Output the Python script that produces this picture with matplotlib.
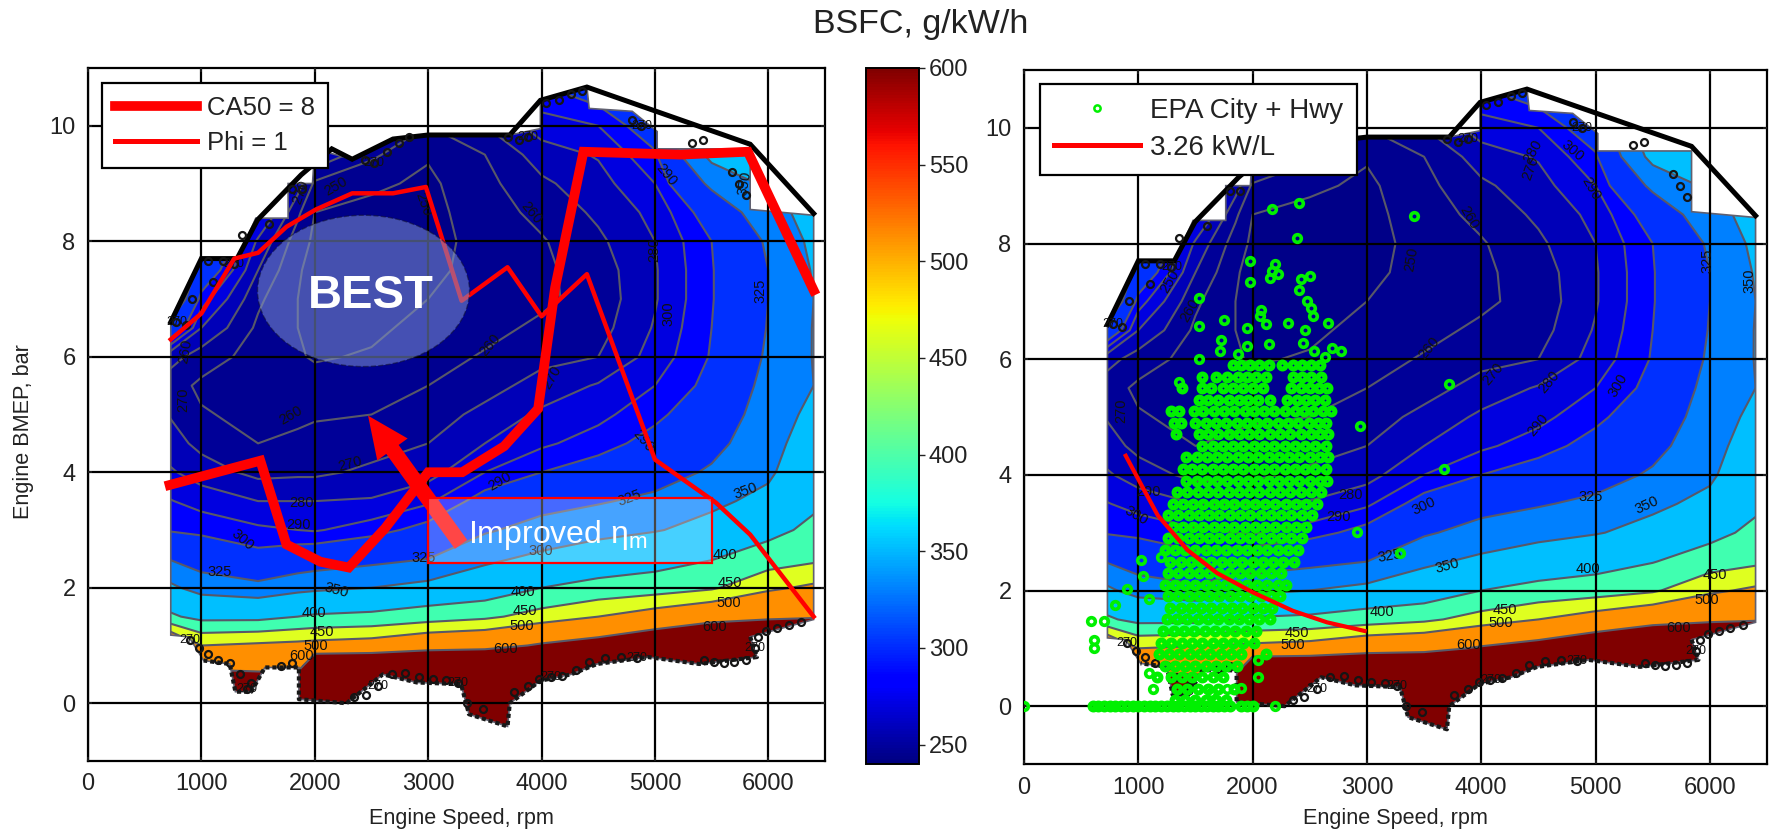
import numpy as np
import matplotlib
matplotlib.use('Agg')
import matplotlib.pyplot as plt
from matplotlib.lines import Line2D
from matplotlib.patches import Ellipse, FancyArrowPatch, Polygon, Rectangle
from matplotlib.cm import ScalarMappable
from matplotlib.colors import Normalize

plt.rcParams['font.family'] = ['Liberation Sans', 'DejaVu Sans']

# BSFC map, one column per engine speed
speeds = [700, 1000, 1500, 1850, 2000, 2500, 3000, 3500, 4000, 4500, 5000, 5500, 6000, 6400]
bmep_rows = [-0.5, 0, 0.5, 1, 1.5, 2, 2.5, 3, 3.5, 4, 4.5, 5, 5.5, 6, 6.5, 7, 7.5, 8, 8.5, 9, 9.5, 10, 10.7]
bsfc_700 = [900, 900, 800, 600, 410, 357, 325, 299, 291, 282, 275, 270, 265, 275, 320, 360, 370, 380, 380, 380, 380, 380, 380]
bsfc_1000 = [900, 900, 620, 500, 385, 339, 313, 297, 286, 275, 267, 261, 258, 265, 280, 295, 315, 330, 340, 350, 350, 350, 350]
bsfc_1500 = [900, 700, 610, 510, 385, 331, 305, 292, 280, 267, 260, 257, 255, 256, 258, 262, 270, 278, 295, 310, 320, 330, 330]
bsfc_1850 = [900, 700, 610, 516, 400, 340, 310, 290, 280, 268, 262, 258, 255, 251, 250, 250, 251, 255, 262, 275, 295, 305, 305]
bsfc_2000 = [900, 900, 800, 520, 405, 343, 312, 289, 280, 268, 263, 259, 254, 249, 247, 247, 247, 248, 250, 258, 280, 300, 300]
bsfc_2500 = [900, 900, 800, 530, 410, 350, 318, 295, 281, 272, 266, 260, 255, 251, 248, 246, 245, 245, 247, 252, 262, 275, 285]
bsfc_3000 = [900, 900, 800, 560, 425, 358, 325, 305, 288, 276, 270, 265, 260, 256, 253, 250, 248, 247, 247, 248, 251, 260, 270]
bsfc_3500 = [900, 900, 800, 570, 440, 368, 345, 322, 306, 290, 280, 273, 266, 261, 257, 254, 253, 253, 255, 257, 260, 270, 280]
bsfc_4000 = [900, 900, 800, 610, 470, 400, 356, 334, 316, 300, 288, 282, 274, 267, 262, 258, 258, 259, 263, 268, 275, 285, 300]
bsfc_4500 = [900, 900, 800, 640, 500, 415, 370, 340, 323, 307, 295, 287, 281, 270, 266, 264, 265, 268, 272, 276, 281, 290, 310]
bsfc_5000 = [900, 900, 800, 690, 530, 425, 380, 348, 330, 315, 305, 297, 290, 284, 281, 279, 279, 280, 283, 290, 298, 310, 330]
bsfc_5500 = [900, 900, 850, 760, 560, 443, 398, 360, 344, 328, 318, 310, 304, 301, 300, 299, 299, 300, 308, 330, 358, 370, 380]
bsfc_6000 = [900, 900, 850, 790, 580, 490, 425, 385, 358, 345, 340, 336, 332, 328, 326, 325, 325, 328, 340, 355, 370, 390, 400]
bsfc_6400 = [900, 900, 850, 800, 590, 510, 440, 412, 390, 375, 365, 357, 350, 351, 351, 350, 352, 356, 360, 365, 370, 380, 400]

levels = [240, 250, 260, 270, 280, 290, 300, 325, 350, 400, 450, 500, 600, 1000]
band_colors = ['#000088', '#000090', '#000098', '#0000b8', '#0000e0', '#0000ff', '#0030ff',
               '#0080ff', '#00bfff', '#40ffb0', '#dfff20', '#ff8f00', '#800000']

# measured area of the map
edge_speed = [730, 1000, 1320, 1480, 1765, 1765, 1980, 2000, 2330, 2690, 3000, 3720, 3990, 3990, 4400, 4420,
              4800, 5020, 5020, 5840, 5840, 6400, 6400, 5840, 5900, 5390, 4940, 4490, 4260, 3990, 3720, 3700,
              3360, 3290, 2900, 2600, 2280, 1860, 1860, 1560, 1440, 1300, 1250, 1020, 890, 730]
edge_bmep = [6.6, 7.7, 7.7, 8.4, 8.4, 9.0, 9.0, 9.6, 9.42, 9.77, 9.84, 9.84, 9.95, 10.44, 10.67, 10.3,
             10.25, 9.9, 9.6, 9.6, 8.55, 8.45, 1.45, 1.15, 0.8, 0.68, 0.8, 0.68, 0.5, 0.39, 0, -0.4,
             -0.19, 0.33, 0.36, 0.5, 0, 0.07, 0.62, 0.62, 0.2, 0.2, 0.68, 0.74, 1.15, 1.18]

# max torque line
top_speed = [730, 1000, 1315, 1495, 1880, 2150, 2330, 2690, 3000, 3720, 3990, 4400, 5840, 6400]
top_bmep = [6.6, 7.7, 7.7, 8.37, 9.15, 9.6, 9.42, 9.77, 9.84, 9.84, 10.44, 10.67, 9.68, 8.48]

# red lines, left chart
ca50_speed = [720, 1520, 1750, 2050, 2300, 2620, 3000, 3300, 3670, 3970, 4120, 4370, 5220, 5820, 6400]
ca50_bmep = [3.78, 4.2, 2.75, 2.45, 2.35, 3.03, 4.0, 4.0, 4.45, 5.1, 7.2, 9.55, 9.5, 9.55, 7.15]
phi_speed = [730, 1000, 1290, 1500, 1750, 2010, 2330, 2690, 2980, 3295, 3700, 4000, 4400, 5000, 5540, 5840, 6400]
phi_bmep = [6.3, 6.75, 7.7, 7.8, 8.25, 8.55, 8.83, 8.83, 8.94, 6.97, 7.55, 6.7, 7.43, 4.22, 3.47, 2.92, 1.5]

# right chart
power_speed = [890, 1020, 1170, 1430, 1690, 2000, 2350, 2650, 2980]
power_bmep = [4.33, 3.85, 3.3, 2.7, 2.3, 1.97, 1.65, 1.45, 1.3]

epa_sparse_speed = [2170, 2410, 2390, 3410, 1980, 2200, 2170, 2220, 2150, 2500, 2425, 1980, 2410, 2480, 1535, 2510,
                    2530, 2075, 2065, 1750, 1535, 2115, 1955, 2310, 2660, 2455, 2440, 1725, 1715, 2140, 1955, 1870,
                    2535, 2695, 2770, 1535, 2630, 3717, 2943, 1360, 3670, 2910, 3290, 2200, 0, 590, 700, 610,
                    610, 800, 900, 1090, 1040, 1020, 1200, 1090, 1130, 2050, 2050, 1900, 1780, 1640]
epa_sparse_bmep = [8.6, 8.7, 8.1, 8.47, 7.7, 7.65, 7.53, 7.48, 7.4, 7.43, 7.38, 7.33, 7.2, 7.0, 7.05, 6.88,
                   6.74, 6.85, 6.74, 6.68, 6.57, 6.6, 6.54, 6.62, 6.62, 6.5, 6.28, 6.34, 6.14, 6.26, 6.23, 6.09,
                   6.14, 6.2, 6.14, 6.0, 6.03, 5.57, 4.84, 5.6, 4.1, 3.02, 2.65, 0, 0, 1.47, 1.47, 1.15,
                   1.0, 1.75, 2.03, 1.85, 2.25, 2.53, 2.58, 0.57, 0.29, 0.8, 0.5, 0.32, 0.29, 0.23]

# the dense cloud, one list of speeds per BMEP row
epa_levels = [5.9, 5.7, 5.5, 5.3, 5.1, 4.9, 4.7, 4.5, 4.3, 4.1, 3.9, 3.7, 3.5, 3.3, 3.1, 2.9, 2.7, 2.5,
              2.3, 2.1, 1.9, 1.7, 1.5, 1.3, 1.1, 0.9, 0.7, 0.5, 0.3, 0.1, 0]
epa_cloud = [
    [1830, 1900, 1980, 2060, 2140, 2260, 2350, 2430, 2510, 2590],
    [1560, 1680, 1780, 1870, 1950, 2030, 2120, 2350, 2430, 2510, 2600],
    [1380, 1560, 1640, 1740, 1830, 1920, 2000, 2090, 2340, 2420, 2500, 2580, 2650],
    [1530, 1610, 1700, 1790, 1880, 1960, 2050, 2150, 2300, 2390, 2470, 2550, 2630],
    [1290, 1360, 1490, 1570, 1660, 1750, 1840, 1930, 2010, 2100, 2190, 2280, 2370, 2450, 2530, 2620, 2690],
    [1310, 1370, 1500, 1590, 1680, 1770, 1860, 1950, 2040, 2130, 2220, 2310, 2400, 2490, 2570, 2640],
    [1330, 1530, 1610, 1700, 1790, 1880, 1970, 2060, 2150, 2240, 2330, 2420, 2510, 2590, 2660],
    [1560, 1650, 1740, 1830, 1920, 2010, 2100, 2190, 2280, 2370, 2460, 2550, 2640],
    [1420, 1510, 1600, 1690, 1780, 1870, 1960, 2050, 2140, 2230, 2320, 2410, 2500, 2590, 2660],
    [1390, 1470, 1560, 1650, 1740, 1830, 1920, 2010, 2100, 2190, 2280, 2370, 2460, 2550, 2640],
    [1420, 1510, 1600, 1690, 1780, 1870, 1960, 2050, 2140, 2230, 2320, 2410, 2500, 2590, 2650],
    [1340, 1430, 1520, 1610, 1700, 1790, 1880, 1970, 2060, 2150, 2240, 2330, 2420, 2510, 2600],
    [1300, 1390, 1480, 1570, 1660, 1750, 1840, 1930, 2020, 2110, 2200, 2290, 2380, 2470, 2560],
    [1260, 1350, 1440, 1530, 1620, 1710, 1800, 1890, 1980, 2070, 2160, 2250, 2340, 2430, 2520],
    [1300, 1390, 1480, 1570, 1660, 1750, 1840, 1930, 2020, 2110, 2200, 2290, 2380, 2470],
    [1260, 1350, 1440, 1530, 1620, 1710, 1800, 1890, 1980, 2070, 2160, 2250, 2340, 2430],
    [1230, 1320, 1410, 1500, 1590, 1680, 1770, 1860, 1950, 2040, 2130, 2220, 2310, 2400],
    [1280, 1370, 1460, 1550, 1640, 1730, 1820, 1910, 2000, 2090, 2180, 2270, 2360],
    [1260, 1350, 1440, 1530, 1620, 1710, 1800, 1890, 1980, 2070, 2160, 2250],
    [1230, 1320, 1410, 1500, 1590, 1680, 1770, 1860, 1950, 2040, 2130, 2220, 2290],
    [1260, 1350, 1440, 1530, 1620, 1710, 1800, 1890, 1980, 2070, 2160, 2240],
    [1280, 1370, 1460, 1550, 1640, 1730, 1820, 1910, 2000, 2090, 2170],
    [1250, 1340, 1430, 1520, 1610, 1700, 1790, 1880, 1970, 2060, 2150],
    [1220, 1310, 1400, 1490, 1580, 1670, 1760, 1850, 1940, 2030],
    [1200, 1290, 1380, 1470, 1560, 1650, 1740, 1830, 1920, 2010],
    [1180, 1270, 1360, 1450, 1540, 1630, 1720, 1810, 1900, 2120],
    [1230, 1320, 1410, 1500, 1590, 1680, 1770, 1860],
    [1160, 1290, 1380, 1470, 1560, 1650, 1740],
    [1340, 1430, 1520, 1610, 1700, 1840],
    [1320, 1410, 1500, 1590, 1680, 1770],
    [600, 650, 700, 750, 800, 850, 900, 950, 1000, 1050, 1100, 1150, 1200, 1250, 1300, 1350, 1400, 1450,
     1500, 1550, 1600, 1650, 1700, 1750, 1800, 1900, 1950, 2000],
]

# contour labels (speed, bmep, text, angle)
left_labels = [
    (1360, 2.83, '300', -40), (1157, 2.28, '325', 0), (1880, 3.47, '280', 0), (1860, 3.09, '290', 0),
    (2310, 4.14, '270', 15), (2190, 1.96, '350', -15), (1990, 1.57, '400', 0), (2060, 1.23, '450', 0),
    (2010, 1.0, '500', 0), (1880, 0.81, '600', 0), (2960, 2.51, '325', 0), (3630, 3.85, '290', 30),
    (3990, 2.63, '300', 0), (3840, 1.92, '400', 0), (3850, 1.6, '450', 0), (3830, 1.34, '500', 0),
    (3680, 0.94, '600', 0), (4780, 3.56, '325', 20), (5800, 3.67, '350', 20), (5620, 2.57, '400', 0),
    (5660, 2.09, '450', 0), (5650, 1.74, '500', 0), (5530, 1.32, '600', 0), (1790, 4.98, '260', 30),
    (3550, 6.2, '260', 50), (4090, 5.65, '270', 60), (4900, 4.55, '290', -50), (5120, 6.75, '300', 90),
    (4990, 7.85, '280', 90), (5930, 7.15, '325', 90), (5100, 9.15, '290', -50), (3910, 8.5, '260', -50),
    (2960, 8.65, '250', -70), (840, 5.25, '270', 90), (860, 6.1, '260', 80), (2190, 8.95, '250', 30),
    (1880, 8.85, '270', 70), (5790, 9.0, '350', 80),
]
right_labels = [
    (2860, 3.65, '280', 0), (2750, 3.27, '290', 0), (3500, 3.45, '300', 25), (3200, 2.6, '325', 10),
    (3700, 2.43, '350', 15), (4960, 3.62, '325', 0), (5450, 3.47, '350', 25), (4930, 2.38, '400', 0),
    (6040, 2.27, '450', 0), (5970, 1.84, '500', 0), (5730, 1.35, '600', 0), (3130, 1.63, '400', 0),
    (4210, 1.67, '450', 0), (4170, 1.44, '500', 0), (3890, 1.06, '600', 0), (2390, 1.26, '450', 0),
    (2350, 1.05, '500', 0), (1090, 3.7, '290', 0), (980, 3.3, '300', -30), (3540, 6.2, '260', 50),
    (4100, 5.75, '270', 50), (4590, 5.6, '280', 50), (4500, 4.86, '290', 50), (5200, 5.55, '300', 60),
    (5980, 7.7, '325', 90), (6350, 7.35, '350', 90), (3890, 8.45, '260', -60), (4960, 8.95, '290', -60),
    (4800, 9.6, '300', -40), (4450, 9.6, '280', 60), (4430, 9.3, '270', 70), (1280, 7.35, '250', 60),
    (1450, 6.85, '260', 60), (850, 5.1, '270', 90), (3390, 7.73, '250', 80),
]
# the piled up labels along the edge of the map
pile_speed = [780, 860, 920, 1060, 1100, 1190, 1290, 1360, 1600, 1800, 1890, 2440, 2520, 2640, 2740, 2830, 3700,
              3800, 3880, 4040, 4150, 4260, 4360, 4800, 4880, 5330, 5420, 5680, 5740, 5800, 900, 980, 1060, 1150,
              1250, 1340, 1400, 1440, 1700, 1800, 2350, 2450, 2560, 2680, 2800, 2920, 3040, 3160, 3260, 3340,
              3480, 3760, 3880, 3980, 4080, 4180, 4300, 4420, 4560, 4700, 4840, 5430, 5520, 5610, 5700, 5800,
              5880, 5910, 5980, 6080, 6180, 6290]
pile_bmep = [6.6, 6.55, 7.0, 7.65, 7.3, 7.65, 7.6, 8.1, 8.3, 8.9, 8.9, 9.4, 9.35, 9.55, 9.7, 9.8, 9.8,
             9.75, 9.8, 10.4, 10.45, 10.55, 10.6, 10.1, 10.0, 9.7, 9.75, 9.2, 9.0, 8.8, 1.1, 0.95, 0.85, 0.75,
             0.7, 0.5, 0.25, 0.35, 0.65, 0.7, 0.1, 0.15, 0.3, 0.5, 0.52, 0.45, 0.42, 0.4, 0.35, 0.0,
             -0.1, 0.2, 0.3, 0.42, 0.45, 0.48, 0.58, 0.72, 0.78, 0.8, 0.78, 0.75, 0.72, 0.7, 0.72, 0.75,
             0.95, 1.15, 1.25, 1.3, 1.35, 1.4]


def DrawMap(ax, labels):
    z = np.array([bsfc_700, bsfc_1000, bsfc_1500, bsfc_1850, bsfc_2000, bsfc_2500, bsfc_3000, bsfc_3500,
                  bsfc_4000, bsfc_4500, bsfc_5000, bsfc_5500, bsfc_6000, bsfc_6400]).T
    area = Polygon(np.column_stack([edge_speed, edge_bmep]), closed=True, fc='none', ec='#606070', lw=1.2,
                   transform=ax.transData, zorder=1.3)
    ax.add_patch(area)
    filled = ax.contourf(speeds, bmep_rows, z, levels=levels, colors=band_colors, zorder=1)
    filled.set_clip_path(area)
    lines = ax.contour(speeds, bmep_rows, z, levels=levels[1:-1], colors='#585868', linewidths=1.5, zorder=1.2)
    lines.set_clip_path(area)
    ax.plot(top_speed, top_bmep, color='k', lw=3.6, zorder=2.6, solid_joinstyle='miter')
    for x, y, s, rot in labels:
        ax.text(x, y, s, fontsize=10.5, rotation=rot, ha='center', va='center', color='#101010', zorder=2.7)
    # rough dark crust of overlapping labels
    ax.plot(edge_speed[23:-2], edge_bmep[23:-2], color='#181818', lw=3, ls=(0, (1.0, 0.7)), zorder=2.65)
    ax.plot(pile_speed, pile_bmep, ls='none', marker='o', ms=5, mfc='none', mec='#151515', mew=1.6, zorder=2.7)
    for x, y in zip(pile_speed[::6], pile_bmep[::6]):
        ax.text(x, y, '270', fontsize=9, ha='center', va='center', color='#101010', zorder=2.7)
    ax.set_xlim(0, 6500)
    ax.set_ylim(-1, 11)
    ax.set_xticks([0, 1000, 2000, 3000, 4000, 5000, 6000])
    ax.set_yticks([0, 2, 4, 6, 8, 10])
    ax.grid(True, color='k', lw=1.6)
    ax.set_axisbelow(False)
    ax.tick_params(direction='in', length=3, top=True, right=True, labelsize=17, width=1.2, colors='#222222', pad=9)
    for s in ax.spines.values():
        s.set_linewidth(1.6)
    ax.set_xlabel('Engine Speed, rpm', fontsize=15.6, color='#222222')


fig = plt.figure(figsize=(17.75, 8.39), dpi=100)
w, h = 1775.0, 839.0
ax1 = fig.add_axes([88/w, 1-761/h, 737/w, 693/h])
ax2 = fig.add_axes([1024/w, 1-764/h, 743/w, 694/h])
cax = fig.add_axes([866/w, 1-764/h, 53/w, 696/h])

# left chart
DrawMap(ax1, left_labels)
ax1.plot(phi_speed, phi_bmep, color='#ff0000', lw=3.2, zorder=3)
ax1.plot(ca50_speed, ca50_bmep, color='#ff0000', lw=7, zorder=3.1, solid_joinstyle='miter')
ax1.add_patch(Ellipse((2430, 7.14), 1870, 2.62, fc='#7f93d0', alpha=0.55, ec='#101030', lw=1, ls='--', zorder=3.3))
ax1.text(2490, 7.05, 'BEST', color='white', fontsize=34, fontweight='bold', ha='center', va='center', zorder=3.5)
ax1.add_patch(FancyArrowPatch((3290, 2.75), (2470, 4.98), mutation_scale=1, fc='#ff0000', ec='none', lw=0,
                              arrowstyle='simple,head_length=30,head_width=27,tail_width=11', zorder=3.4,
                              shrinkA=0, shrinkB=0))
ax1.add_patch(Rectangle((3000, 2.42), 2500, 1.14, fc='white', alpha=0.28, ec='none', zorder=3.45))
ax1.add_patch(Rectangle((3000, 2.42), 2500, 1.14, fc='none', ec='#ff0000', lw=1.6, zorder=3.46))
ax1.text(3350, 2.92, r'Improved $\mathregular{\eta_m}$', color='white', fontsize=23, va='center', zorder=3.5)
ax1.set_ylabel('Engine BMEP, bar', fontsize=15.6, color='#222222')
ax1.yaxis.set_label_coords(-0.0735, 0.476)
ax1.xaxis.set_label_coords(0.507, -0.068)
leg1 = ax1.legend(handles=[Line2D([], [], color='#ff0000', lw=7, label='CA50 = 8'),
                           Line2D([], [], color='#ff0000', lw=3.6, label='Phi = 1')],
                  loc='upper left', bbox_to_anchor=(14/737, 1-15/693), fontsize=18.5, fancybox=False, framealpha=1,
                  edgecolor='k', borderaxespad=0, handlelength=3.2, handletextpad=0.4, labelspacing=0.45,
                  borderpad=0.5, labelcolor='#222222')
leg1.get_frame().set_linewidth(1.6)
leg1.set_zorder(6)

# right chart
DrawMap(ax2, right_labels)
ax2.xaxis.set_label_coords(0.5, -0.063)
ring = dict(ls='none', marker='o', mfc='none', mec='#00f000', zorder=4)
ax2.plot(epa_sparse_speed, epa_sparse_bmep, ms=5.5, mew=2.6, **ring)
for lev, row in zip(epa_levels, epa_cloud):
    ax2.plot(row, [lev]*len(row), ms=5, mew=3.6, **ring)
ax2.plot(power_speed, power_bmep, color='#ff0000', lw=3, zorder=4.5)
leg2 = ax2.legend(handles=[Line2D([], [], ls='none', marker='o', ms=4.5, mfc='none', mec='#00f000', mew=1.8,
                                  label='EPA City + Hwy'),
                           Line2D([], [], color='#ff0000', lw=3.6, label='3.26 kW/L')],
                  loc='upper left', bbox_to_anchor=(16/743, 1-14/694), fontsize=20, fancybox=False, framealpha=1,
                  edgecolor='k', borderaxespad=0, handlelength=3.1, handletextpad=0.35, labelspacing=0.4,
                  borderpad=0.5, labelcolor='#222222')
leg2.get_frame().set_linewidth(1.6)
leg2.set_zorder(6)

# colorbar
cb = fig.colorbar(ScalarMappable(norm=Normalize(240, 600), cmap='jet'), cax=cax,
                  ticks=[250, 300, 350, 400, 450, 500, 550, 600])
cb.ax.tick_params(labelsize=17, length=4, width=1, colors='#222222', pad=3)
cb.outline.set_linewidth(1.4)

fig.text(921/w, 1-25/h, 'BSFC, g/kW/h', fontsize=24.5, ha='center', va='center', color='#222222')
fig.savefig('out.png', dpi=100)
